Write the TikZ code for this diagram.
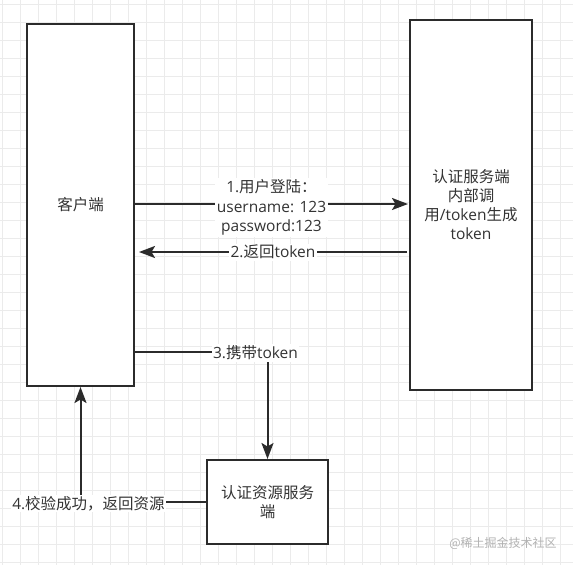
\documentclass[tikz,border=0pt]{standalone}
\usepackage{fontspec}
\setmainfont{Open Sans}
\newfontfamily\cjk{Noto Sans CJK SC}
\usetikzlibrary{arrows.meta,calc}
\definecolor{ln}{HTML}{2B2B2B}
\definecolor{tx}{HTML}{333333}
\definecolor{gridc}{HTML}{EBEBEB}
\begin{document}
\begin{tikzpicture}[x=1pt,y=-1pt,
  box/.style={draw=ln,line width=2pt,fill=white,inner sep=0pt,text=tx,align=center,font=\fontsize{15.5}{19}\selectfont},
  conn/.style={draw=ln,line width=2pt},
  arr/.style={conn,-{Stealth[length=16pt,width=12pt,inset=3.5pt]}},
  lbl/.style={fill=white,text=tx,inner sep=1.5pt,align=center,font=\fontsize{15.5}{19.5}\selectfont}]
\useasboundingbox (0,0) rectangle (573,565);
\fill[white] (0,0) rectangle (573,565);
\foreach \i in {0,...,31} \draw[gridc,line width=0.8pt] (2.5+18*\i,0) -- (2.5+18*\i,565);
\foreach \j in {0,...,31} \draw[gridc,line width=0.8pt] (0,4+18*\j) -- (573,4+18*\j);

\node[box,minimum width=107pt,minimum height=362pt] (client) at (80.5,205) {{\cjk 客户端}};
\node[box,minimum width=122pt,minimum height=370pt] (auth) at (471,205) {{\cjk 认证服务端}\\{\cjk 内部调}\\{\cjk 用}/token{\cjk 生成}\\token};
\node[box,minimum width=121pt,minimum height=84pt] (res) at (267.5,502) {{\cjk 认证资源服务}\\{\cjk 端}};

\draw[arr] ($(client.east)+(0,-1)$) -- node[lbl,yshift=-3.5pt] {1.{\cjk 用户登陆：}\\username: 123\\password:123} ($(auth.west)+(-1,-1)$);
\draw[arr] ($(auth.west)+(-2,47)$) -- node[lbl] {2.{\cjk 返回}token} ($(client.east)+(4,47)$);
\draw[arr] ($(client.east)+(0,147)$) -| (res.north);
\node[lbl] (l3) at (255.5,353) {3.{\cjk 携带}token};
\draw[arr] (res.west) -| (client.south);
\node[lbl] (l4) at (88.5,503.5) {4.{\cjk 校验成功，返回资源}};

\node[text=black!30,font=\cjk\fontsize{12}{14}\selectfont] (wm) at (503,543) {@稀土掘金技术社区};
\end{tikzpicture}
\end{document}
